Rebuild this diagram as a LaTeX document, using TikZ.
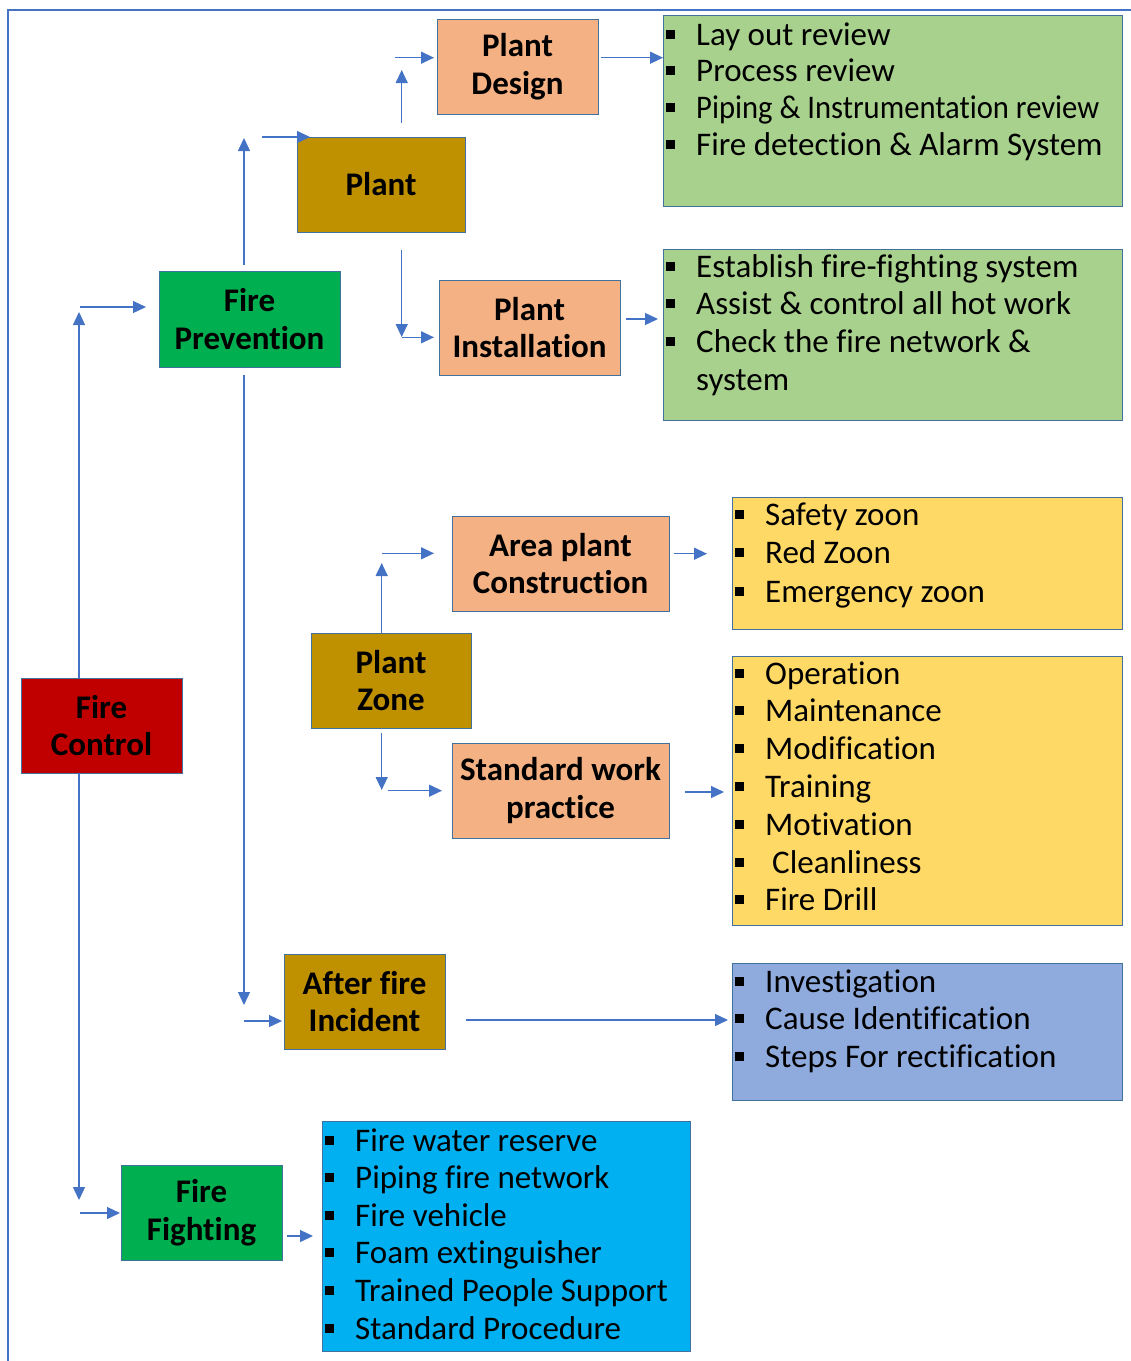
\documentclass[tikz,border=0pt]{standalone}
\usepackage{fontspec}
\setmainfont{Carlito}[Ligatures=CommonOff]
\usetikzlibrary{arrows.meta}
\definecolor{linkblue}{HTML}{4472C4}
\definecolor{edgeblue}{HTML}{41719C}
\definecolor{salmon}{HTML}{F4B183}
\definecolor{gold}{HTML}{BF9000}
\definecolor{grn}{HTML}{00B050}
\definecolor{redbox}{HTML}{C00000}
\definecolor{lgreen}{HTML}{A9D18E}
\definecolor{lyellow}{HTML}{FFD966}
\definecolor{lblue}{HTML}{8FAADC}
\definecolor{cyanbox}{HTML}{00B0F0}
\newcommand{\bul}{\makebox[30pt][l]{\rule[6.5pt]{9pt}{9pt}}}
\newcommand{\listsize}[1]{\fontsize{33}{#1}\selectfont}
\begin{document}
\begin{tikzpicture}[x=1pt,y=-1pt,
  box/.style={draw=edgeblue, line width=1pt, inner sep=0pt, align=center,
    font=\bfseries\fontsize{33}{37.5}\selectfont, text=black},
  listbox/.style={draw=edgeblue, line width=1pt, inner sep=0pt, anchor=north west},
  listtext/.style={inner sep=0pt, anchor=base west},
  arr/.style={draw=linkblue, line width=1.3pt, -{Triangle[length=13pt,width=12pt]}},
  frame/.style={draw=linkblue, line width=1.8pt}]
\useasboundingbox (0,0) rectangle (1131,1361);

% outer frame (left and top edges visible)
\coordinate (frBL) at (8,1361);
\coordinate (frTL) at (8,10);
\coordinate (frTR) at (1131,10);
\draw[frame] (frBL) -- (frTL) -- (frTR);

% main boxes
\node[box, fill=salmon, minimum width=161pt, minimum height=95pt] (pd) at (517.5,66.5) {Plant\\Design};
\node[box, fill=gold, minimum width=168pt, minimum height=95pt] (plant) at (381,184.5) {Plant};
\node[box, fill=grn, minimum width=181pt, minimum height=96pt] (fp) at (249.5,319) {Fire\\Prevention};
\node[box, fill=salmon, minimum width=181pt, minimum height=95pt] (pi) at (529.5,327.5) {Plant\\Installation};
\node[box, fill=salmon, minimum width=217pt, minimum height=95pt] (apc) at (560.5,563.5) {Area plant\\Construction};
\node[box, fill=gold, minimum width=160pt, minimum height=95pt] (pz) at (391,680.5) {Plant\\Zone};
\node[box, fill=salmon, minimum width=217pt, minimum height=95pt] (swp) at (560.5,790.5) {Standard work\\practice};
\node[box, fill=redbox, minimum width=161pt, minimum height=95pt] (fc) at (101.5,725.5) {Fire\\Control};
\node[box, fill=gold, minimum width=161pt, minimum height=95pt] (afi) at (364.5,1001.5) {After fire\\Incident};
\node[box, fill=grn, minimum width=161pt, minimum height=95pt] (ff) at (201.5,1212.5) {Fire\\Fighting};

% list boxes
\node[listbox, fill=lgreen, minimum width=459pt, minimum height=191pt] (g1) at (663,15) {};
\node[listbox, fill=lgreen, minimum width=459pt, minimum height=171pt] (g2) at (663,249) {};
\node[listbox, fill=lyellow, minimum width=390pt, minimum height=132pt] (y1) at (732,497) {};
\node[listbox, fill=lyellow, minimum width=390pt, minimum height=269pt] (y2) at (732,656) {};
\node[listbox, fill=lblue, minimum width=390pt, minimum height=137pt] (bl) at (732,963) {};
\node[listbox, fill=cyanbox, minimum width=368pt, minimum height=230pt] (cy) at (322,1121) {};

% list texts
\node[listtext] (g1t) at (666,45) {\listsize{36.7}\begin{tabular}[t]{@{}l@{}}
\bul Lay out review\\
\bul Process review\\
\bul\resizebox{403pt}{\height}{Piping \& Instrumentation review}\\
\bul Fire detection \& Alarm System
\end{tabular}};
\node[listtext] (g2t) at (666,277) {\listsize{37.7}\begin{tabular}[t]{@{}l@{}}
\bul Establish fire-fighting system\\
\bul Assist \& control all hot work\\
\bul Check the fire network \&\\
\hspace*{30pt}system
\end{tabular}};
\node[listtext] (y1t) at (735,525) {\listsize{38.5}\begin{tabular}[t]{@{}l@{}}
\bul Safety zoon\\
\bul Red Zoon\\
\bul Emergency zoon
\end{tabular}};
\node[listtext] (y2t) at (735,684) {\listsize{37.8}\begin{tabular}[t]{@{}l@{}}
\bul Operation\\
\bul Maintenance\\
\bul Modification\\
\bul Training\\
\bul Motivation\\
\bul\hspace*{7pt}Cleanliness\\
\bul Fire Drill
\end{tabular}};
\node[listtext] (blt) at (735,992) {\listsize{37.5}\begin{tabular}[t]{@{}l@{}}
\bul Investigation\\
\bul Cause Identification\\
\bul Steps For rectification
\end{tabular}};
\node[listtext] (cyt) at (325,1151) {\listsize{37.6}\begin{tabular}[t]{@{}l@{}}
\bul Fire water reserve\\
\bul Piping fire network\\
\bul Fire vehicle\\
\bul Foam extinguisher\\
\bul Trained People Support\\
\bul Standard Procedure
\end{tabular}};

% connector coordinates
\coordinate (fcU) at (79,678);
\coordinate (fcUt) at (79,312);
\coordinate (fpInS) at (80,307);
\coordinate (fpInE) at (146,307);
\coordinate (fcD) at (79,773);
\coordinate (fcDt) at (79,1200);
\coordinate (ffInS) at (80,1213);
\coordinate (ffInE) at (120,1213);

\coordinate (fpU) at (244,265);
\coordinate (fpUt) at (244,138);
\coordinate (plInS) at (262,137);
\coordinate (plInE) at (310,137);
\coordinate (fpD) at (244,375);
\coordinate (fpDt) at (244,1005);
\coordinate (afInS) at (244,1021);
\coordinate (afInE) at (282,1021);

\coordinate (plU) at (401.7,123);
\coordinate (plUt) at (401.7,70);
\coordinate (pdInS) at (395,57.7);
\coordinate (pdInE) at (434,57.7);
\coordinate (pdOut) at (601,57.7);
\coordinate (g1In) at (663,57.7);
\coordinate (plD) at (401.7,250);
\coordinate (plDt) at (401.7,337);
\coordinate (piInS) at (401.7,337.3);
\coordinate (piInE) at (434,337.3);
\coordinate (piOut) at (626,319);
\coordinate (g2In) at (658,319);

\coordinate (pzU) at (381.7,633);
\coordinate (pzUt) at (381.7,563);
\coordinate (apInS) at (381.7,553.3);
\coordinate (apInE) at (434,553.3);
\coordinate (apOut) at (674,553.7);
\coordinate (y1In) at (707,553.7);
\coordinate (pzD) at (381.7,733.3);
\coordinate (pzDt) at (381.7,790);
\coordinate (swInS) at (388,790.7);
\coordinate (swInE) at (442,790.7);
\coordinate (swOut) at (685,792);
\coordinate (y2In) at (724,792);

\coordinate (afOut) at (466,1020);
\coordinate (blIn) at (728,1020);
\coordinate (ffOut) at (287,1236);
\coordinate (cyIn) at (313,1236);

% connectors
\draw[arr] (fcU) -- (fcUt);
\draw[arr] (fpInS) -- (fpInE);
\draw[arr] (fcD) -- (fcDt);
\draw[arr] (ffInS) -- (ffInE);
\draw[arr] (fpU) -- (fpUt);
\draw[arr] (plInS) -- (plInE);
\draw[arr] (fpD) -- (fpDt);
\draw[arr] (afInS) -- (afInE);
\draw[arr] (plU) -- (plUt);
\draw[arr] (pdInS) -- (pdInE);
\draw[arr] (pdOut) -- (g1In);
\draw[arr] (plD) -- (plDt);
\draw[arr] (piInS) -- (piInE);
\draw[arr] (piOut) -- (g2In);
\draw[arr] (pzU) -- (pzUt);
\draw[arr] (apInS) -- (apInE);
\draw[arr] (apOut) -- (y1In);
\draw[arr] (pzD) -- (pzDt);
\draw[arr] (swInS) -- (swInE);
\draw[arr] (swOut) -- (y2In);
\draw[arr] (afOut) -- (blIn);
\draw[arr] (ffOut) -- (cyIn);
\end{tikzpicture}
\end{document}
